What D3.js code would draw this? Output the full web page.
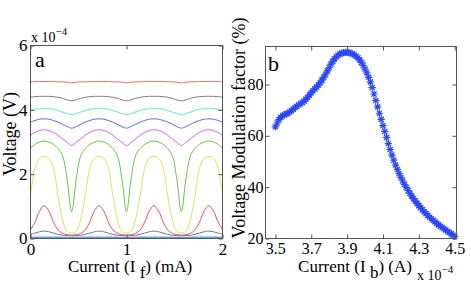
<!DOCTYPE html>
<html>
<head>
<meta charset="utf-8">
<script src="https://cdn.jsdelivr.net/npm/d3@7"></script>
<style>
body { margin: 0; background: #fff; }
svg { display: block; }
text { font-family: "Times New Roman", "Liberation Serif", serif; fill: #000; }
</style>
</head>
<body>
<div id="chart"></div>
<script>
// ---- panel a : voltage vs current I_f (units of 1e-4 V) ----
var current_f = [0, 0.0476, 0.0952, 0.1429, 0.1905, 0.2381, 0.2857, 0.3333, 0.381, 0.4286,
  0.4762, 0.5238, 0.5714, 0.619, 0.6667, 0.7143, 0.7619, 0.8095, 0.8571, 0.9048, 0.9524,
  1.0, 1.0476, 1.0952, 1.1429, 1.1905, 1.2381, 1.2857, 1.3333, 1.381, 1.4286, 1.4762,
  1.5238, 1.5714, 1.619, 1.6667, 1.7143, 1.7619, 1.8095, 1.8571, 1.9048, 1.9524, 2.0];

var v_red_top = [4.87,4.88,4.88,4.88,4.88,4.88,4.87,4.87,4.86,4.84,
  4.86,4.87,4.87,4.88,4.88,4.88,4.88,4.88,4.87,4.87,4.86,4.84,
  4.86,4.87,4.87,4.88,4.88,4.88,4.88,4.88,4.87,4.87,4.86,4.84,
  4.86,4.87,4.87,4.88,4.88,4.88,4.88,4.88,4.87];
var v_gray_top = [4.39,4.41,4.42,4.42,4.42,4.41,4.39,4.36,4.31,4.28,
  4.31,4.36,4.39,4.41,4.42,4.42,4.42,4.41,4.39,4.36,4.31,4.28,
  4.31,4.36,4.39,4.41,4.42,4.42,4.42,4.41,4.39,4.36,4.31,4.28,
  4.31,4.36,4.39,4.41,4.42,4.42,4.42,4.41,4.39];
var v_cyan_top = [3.98,4.02,4.04,4.05,4.04,4.02,3.98,3.93,3.88,3.85,
  3.88,3.93,3.98,4.02,4.04,4.05,4.04,4.02,3.98,3.93,3.88,3.85,
  3.88,3.93,3.98,4.02,4.04,4.05,4.04,4.02,3.98,3.93,3.88,3.85,
  3.88,3.93,3.98,4.02,4.04,4.05,4.04,4.02,3.98];
var v_blue_top = [3.62,3.67,3.71,3.72,3.71,3.67,3.62,3.55,3.48,3.43,
  3.48,3.55,3.62,3.67,3.71,3.72,3.71,3.67,3.62,3.55,3.48,3.43,
  3.48,3.55,3.62,3.67,3.71,3.72,3.71,3.67,3.62,3.55,3.48,3.43,
  3.48,3.55,3.62,3.67,3.71,3.72,3.71,3.67,3.62];
var v_violet_top = [3.21,3.30,3.36,3.38,3.36,3.30,3.21,3.10,2.99,2.89,
  2.99,3.10,3.21,3.30,3.36,3.38,3.36,3.30,3.21,3.10,2.99,2.89,
  2.99,3.10,3.21,3.30,3.36,3.38,3.36,3.30,3.21,3.10,2.99,2.89,
  2.99,3.10,3.21,3.30,3.36,3.38,3.36,3.30,3.21];
var v_green = [2.80,2.93,3.00,3.03,3.00,2.93,2.80,2.58,1.85,0.83,
  1.85,2.58,2.80,2.93,3.00,3.03,3.00,2.93,2.80,2.58,1.85,0.83,
  1.85,2.58,2.80,2.93,3.00,3.03,3.00,2.93,2.80,2.58,1.85,0.83,
  1.85,2.58,2.80,2.93,3.00,3.03,3.00,2.93,2.80];
var v_yellow = [1.35,2.20,2.50,2.55,2.50,2.20,1.35,0.60,0.22,0.17,
  0.22,0.60,1.35,2.20,2.50,2.55,2.50,2.20,1.35,0.60,0.22,0.17,
  0.22,0.60,1.35,2.20,2.50,2.55,2.50,2.20,1.35,0.60,0.22,0.17,
  0.22,0.60,1.35,2.20,2.50,2.55,2.50,2.20,1.35];
var v_red_low = [0.27,0.52,0.86,1.02,0.86,0.52,0.27,0.16,0.12,0.11,
  0.12,0.16,0.27,0.52,0.86,1.02,0.86,0.52,0.27,0.16,0.12,0.11,
  0.12,0.16,0.27,0.52,0.86,1.02,0.86,0.52,0.27,0.16,0.12,0.11,
  0.12,0.16,0.27,0.52,0.86,1.02,0.86,0.52,0.27];
var v_gray_low = [0.13,0.17,0.21,0.23,0.21,0.17,0.13,0.10,0.09,0.08,
  0.09,0.10,0.13,0.17,0.21,0.23,0.21,0.17,0.13,0.10,0.09,0.08,
  0.09,0.10,0.13,0.17,0.21,0.23,0.21,0.17,0.13,0.10,0.09,0.08,
  0.09,0.10,0.13,0.17,0.21,0.23,0.21,0.17,0.13];
var v_cyan_low = [0.06,0.06,0.07,0.07,0.07,0.06,0.06,0.05,0.05,0.05,
  0.05,0.05,0.06,0.06,0.07,0.07,0.07,0.06,0.06,0.05,0.05,0.05,
  0.05,0.05,0.06,0.06,0.07,0.07,0.07,0.06,0.06,0.05,0.05,0.05,
  0.05,0.05,0.06,0.06,0.07,0.07,0.07,0.06,0.06];
var v_blue_low = [0.03,0.03,0.03,0.03,0.03,0.03,0.03,0.03,0.03,0.03,
  0.03,0.03,0.03,0.03,0.03,0.03,0.03,0.03,0.03,0.03,0.03,0.03,
  0.03,0.03,0.03,0.03,0.03,0.03,0.03,0.03,0.03,0.03,0.03,0.03,
  0.03,0.03,0.03,0.03,0.03,0.03,0.03,0.03,0.03];
var v_violet_low = [0.015,0.015,0.015,0.015,0.015,0.015,0.015,0.015,0.015,0.015,
  0.015,0.015,0.015,0.015,0.015,0.015,0.015,0.015,0.015,0.015,0.015,0.015,
  0.015,0.015,0.015,0.015,0.015,0.015,0.015,0.015,0.015,0.015,0.015,0.015,
  0.015,0.015,0.015,0.015,0.015,0.015,0.015,0.015,0.015];

var series_a = [v_red_top, v_gray_top, v_cyan_top, v_blue_top, v_violet_top, v_green,
  v_yellow, v_red_low, v_gray_low, v_cyan_low, v_blue_low, v_violet_low];
var colors_a = ["#ff6a6a", "#808080", "#66f0b0", "#5a6cff", "#c86cff", "#6cc44a",
  "#d4e85a", "#ff5050", "#7a7a7a", "#6ff0d8", "#6a70ff", "#b08cff"];
var ticks_a_x = [0, 1, 2];
var ticks_a_y = [0, 2, 4, 6];

// ---- panel b : voltage modulation factor vs current I_b (units of 1e-4 A) ----
var current_b = [3.5,3.51,3.52,3.53,3.54,3.55,3.56,3.57,3.58,3.59,
  3.6,3.61,3.62,3.63,3.64,3.65,3.66,3.67,3.68,3.69,
  3.7,3.71,3.72,3.73,3.74,3.75,3.76,3.77,3.78,3.79,
  3.8,3.81,3.82,3.83,3.84,3.85,3.86,3.87,3.88,3.89,
  3.9,3.91,3.92,3.93,3.94,3.95,3.96,3.97,3.98,3.99,
  4.0,4.01,4.02,4.03,4.04,4.05,4.06,4.07,4.08,4.09,
  4.1,4.11,4.12,4.13,4.14,4.15,4.16,4.17,4.18,4.19,
  4.2,4.21,4.22,4.23,4.24,4.25,4.26,4.27,4.28,4.29,
  4.3,4.31,4.32,4.33,4.34,4.35,4.36,4.37,4.38,4.39,
  4.4,4.41,4.42,4.43,4.44,4.45,4.46,4.47,4.48,4.49,4.5];
var modulation = [63.5,65.0,66.3,67.2,67.8,68.2,68.5,68.8,69.3,69.8,
  70.4,71.0,71.5,72.0,72.5,73.0,73.5,74.2,75.0,75.9,
  76.8,77.6,78.3,79.0,79.8,80.7,81.7,82.8,84.0,85.3,
  86.6,87.9,89.0,90.0,90.8,91.4,91.9,92.2,92.4,92.5,
  92.5,92.4,92.2,91.9,91.5,91.0,90.4,89.6,88.6,87.4,
  86.0,84.5,82.8,81.0,78.8,76.3,73.8,71.3,68.8,66.4,
  64.0,61.7,59.4,57.0,54.7,52.5,50.5,48.6,46.9,45.3,
  43.8,42.4,41.1,39.9,38.7,37.6,36.5,35.5,34.6,33.7,
  32.8,32.0,31.2,30.4,29.7,29.0,28.3,27.7,27.1,26.5,
  25.9,25.3,24.8,24.3,23.8,23.3,22.8,22.3,21.8,21.3,20.8];
var ticks_b_x = [3.5, 3.7, 3.9, 4.1, 4.3, 4.5];
var ticks_b_y = [20, 40, 60, 80];

//Width and height
var w = 471;
var h = 283;

var svg = d3.select("#chart")
  .append("svg")
  .attr("width", w)
  .attr("height", h)
  .style("background-color", "#fff");

// draw a boxed frame with inward ticks on all four sides
function draw_frame(g, x, y, xticks, yticks, xfmt, yfmt, fsize, ypad){
  var x0 = x.range()[0], x1 = x.range()[1];
  var y0 = y.range()[0], y1 = y.range()[1];

  var bottom = g.append("g")
    .attr("transform", "translate(0," + y0 + ")")
    .call(d3.axisBottom(x).tickValues(xticks).tickSize(-4).tickPadding(4).tickFormat(xfmt));
  var top = g.append("g")
    .attr("transform", "translate(0," + y1 + ")")
    .call(d3.axisTop(x).tickValues(xticks).tickSize(-4).tickFormat(""));
  var left = g.append("g")
    .attr("transform", "translate(" + x0 + ",0)")
    .call(d3.axisLeft(y).tickValues(yticks).tickSize(-4).tickPadding(ypad).tickFormat(yfmt));
  var right = g.append("g")
    .attr("transform", "translate(" + x1 + ",0)")
    .call(d3.axisRight(y).tickValues(yticks).tickSize(-4).tickFormat(""));

  [bottom, top, left, right].forEach(function(a){
    a.select(".domain").remove();
    a.selectAll(".tick line").attr("stroke", "#555");
    a.selectAll("text")
      .style("font-family", "'Times New Roman', 'Liberation Serif', serif")
      .style("font-size", fsize + "px")
      .attr("fill", "#000");
  });

  g.append("rect")
    .attr("x", x0).attr("y", y1)
    .attr("width", x1 - x0).attr("height", y0 - y1)
    .attr("fill", "none")
    .attr("stroke", "#555")
    .attr("stroke-width", 1);
}

// ---------- panel a ----------
var xa = d3.scaleLinear().domain([0, 2]).range([30.5, 222.5]);
var ya = d3.scaleLinear().domain([0, 6]).range([238.5, 45.5]);

var ga = svg.append("g");

var line_a = d3.line()
  .x(function(d){ return xa(d[0]); })
  .y(function(d){ return ya(d[1]); })
  .curve(d3.curveCatmullRom);

ga.append("g")
  .selectAll("path")
  .data(series_a)
  .enter()
  .append("path")
  .attr("d", function(s){ return line_a(current_f.map(function(c, i){ return [c, s[i]]; })); })
  .attr("fill", "none")
  .attr("stroke", function(s, i){ return colors_a[i]; })
  .attr("stroke-width", 1);

draw_frame(ga, xa, ya, ticks_a_x, ticks_a_y, d3.format("d"), d3.format("d"), 17, 3);

ga.append("text").attr("x", 35).attr("y", 67).style("font-size", "22px").text("a");

// exponent
var ea = ga.append("text").attr("x", 31).attr("y", 42).style("font-size", "14px");
ea.append("tspan").text("x 10");
ea.append("tspan").attr("dy", -7).style("font-size", "11px").text("\u22124");

ga.append("text")
  .attr("transform", "translate(16,134) rotate(-90)")
  .attr("text-anchor", "middle")
  .style("font-size", "18px")
  .text("Voltage (V)");

var la = ga.append("text")
  .attr("x", 130).attr("y", 272)
  .attr("text-anchor", "middle")
  .style("font-size", "17px");
la.append("tspan").text("Current (I ");
la.append("tspan").attr("dy", 6).text("f");
la.append("tspan").attr("dy", -6).text(") (mA)");

// ---------- panel b ----------
var xb = d3.scaleLinear().domain([3.445, 4.51]).range([265.5, 456.5]);
var yb = d3.scaleLinear().domain([20, 94.8]).range([238.5, 46.5]);

var gb = svg.append("g");

var star = "M-3.6,0L3.6,0M0,-3.6L0,3.6M-2.6,-2.6L2.6,2.6M-2.6,2.6L2.6,-2.6";

gb.append("g")
  .selectAll("path")
  .data(modulation)
  .enter()
  .append("path")
  .attr("transform", function(d, i){ return "translate(" + xb(current_b[i]) + "," + yb(d) + ")"; })
  .attr("d", star)
  .attr("fill", "none")
  .attr("stroke", "#2a48ff")
  .attr("stroke-width", 1.2);

draw_frame(gb, xb, yb, ticks_b_x, ticks_b_y, d3.format(".1f"), d3.format("d"), 16, 2);

gb.append("text").attr("x", 268).attr("y", 71).style("font-size", "22px").text("b");

gb.append("text")
  .attr("transform", "translate(245,128) rotate(-90)")
  .attr("text-anchor", "middle")
  .style("font-size", "18px")
  .text("Voltage Modulation factor (%)");

var lb = gb.append("text")
  .attr("x", 355).attr("y", 272)
  .attr("text-anchor", "middle")
  .style("font-size", "17px");
lb.append("tspan").text("Current (I ");
lb.append("tspan").attr("dy", 6).text("b");
lb.append("tspan").attr("dy", -6).text(") (A)");

var eb = gb.append("text").attr("x", 417).attr("y", 280).style("font-size", "14px");
eb.append("tspan").text("x 10");
eb.append("tspan").attr("dy", -7).style("font-size", "11px").text("\u22124");
</script>
</body>
</html>
